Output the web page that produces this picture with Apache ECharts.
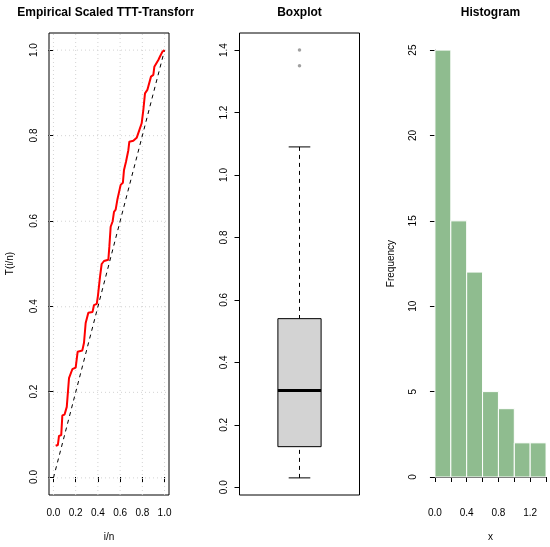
<!DOCTYPE html>
<html>
<head>
<meta charset="utf-8">
<script src="https://cdn.jsdelivr.net/npm/echarts@6/dist/echarts.min.js"></script>
<style>
  html, body { margin: 0; padding: 0; background: #fff; }
  #main { width: 550px; height: 547px; }
</style>
</head>
<body>
<div id="main"></div>
<script>
// TTT-transform curve (i/n, T(i/n))
var tttX = [0.02, 0.04, 0.05, 0.07, 0.08, 0.10, 0.12, 0.13, 0.14, 0.155, 0.17, 0.20, 0.218, 0.26, 0.275, 0.29, 0.314, 0.352, 0.365, 0.39,
            0.40, 0.419, 0.434, 0.455, 0.494, 0.503, 0.515, 0.533, 0.545, 0.56, 0.575, 0.59, 0.605, 0.625, 0.635, 0.653, 0.674, 0.683, 0.719, 0.734,
            0.749, 0.773, 0.794, 0.809, 0.824, 0.845, 0.863, 0.878, 0.899, 0.908, 0.925, 0.944, 0.959, 0.98, 1.0];
var tttY = [0.075, 0.077, 0.098, 0.100, 0.146, 0.148, 0.166, 0.168, 0.233, 0.235, 0.254, 0.258, 0.295, 0.298, 0.316, 0.362, 0.386, 0.388, 0.404, 0.407,
            0.425, 0.470, 0.500, 0.507, 0.510, 0.540, 0.587, 0.600, 0.622, 0.627, 0.650, 0.653, 0.685, 0.690, 0.720, 0.739, 0.766, 0.786, 0.788, 0.790,
            0.795, 0.813, 0.829, 0.860, 0.899, 0.907, 0.911, 0.938, 0.942, 0.961, 0.963, 0.977, 0.985, 0.996, 1.0];
var diagX = [0, 1];
var diagY = [0, 1];
var gridTicks = [0, 0.2, 0.4, 0.6, 0.8, 1.0];

// boxplot: lower whisker, Q1, median, Q3, upper whisker; outliers
var boxStats = [0.03, 0.13, 0.31, 0.54, 1.09];
var outliers = [1.35, 1.40];

// histogram
var breaks = [0, 0.2, 0.4, 0.6, 0.8, 1.0, 1.2, 1.4];
var counts = [25, 15, 12, 5, 4, 2, 2];

var FONT = 'Liberation Sans, Arial, sans-serif';

function zip(a, b){
	var arr = [];
	for(var i=0; i<a.length; i++){
		arr.push([a[i], b[i]]);
	}
	return arr;
}

var histData = [];
for(var i=0; i<counts.length; i++){
	histData.push([breaks[i], breaks[i+1], counts[i]]);
}

var tickLabel = { fontSize: 10, color: '#000', fontFamily: FONT };
var hidden = function(idx, mn, mx){ return { gridIndex: idx, type: 'value', min: mn, max: mx, show: false }; };

var chart = echarts.init(document.getElementById('main'));

var option = {
	animation: false,
	backgroundColor: '#fff',
	title: [
		{ text: 'Empirical Scaled TTT-Transform', left: 109, top: 7, padding: 0, textAlign: 'center',
		  textStyle: { fontSize: 12, fontWeight: 'bold', fontFamily: FONT, color: '#000' } },
		{ text: 'Boxplot', left: 299.5, top: 7, padding: 0, textAlign: 'center',
		  textStyle: { fontSize: 12, fontWeight: 'bold', fontFamily: FONT, color: '#000' } },
		{ text: 'Histogram', left: 490.5, top: 7, padding: 0, textAlign: 'center',
		  textStyle: { fontSize: 12, fontWeight: 'bold', fontFamily: FONT, color: '#000' } }
	],
	// the first title is cut at the edge of its panel
	graphic: [
		{ type: 'rect', shape: { x: 194, y: 0, width: 22, height: 26 }, style: { fill: '#fff' }, z: 100 }
	],
	grid: [
		{ left: 49, top: 33, width: 120, height: 462, show: true, borderColor: '#000', borderWidth: 1, backgroundColor: 'transparent' },
		{ left: 53.44, top: 50.11, width: 111.11, height: 427.78 },
		{ left: 239.5, top: 33, width: 120, height: 462, show: true, borderColor: '#000', borderWidth: 1, backgroundColor: 'transparent' },
		{ left: 239.5, top: 50.11, width: 120, height: 437.15 },
		{ left: 434.94, top: 50.11, width: 111.11, height: 427.78 }
	],
	xAxis: [
		hidden(0, -0.04, 1.04),
		{
			gridIndex: 1, type: 'value', min: 0, max: 1, interval: 0.2, position: 'bottom', offset: 20,
			name: 'i/n', nameLocation: 'middle', nameGap: 35,
			nameTextStyle: { fontSize: 10, color: '#000', fontFamily: FONT },
			axisLine: { show: false },
			axisTick: { show: true, inside: false, length: 5, lineStyle: { color: '#000' } },
			axisLabel: Object.assign({ margin: 11, formatter: function(v){ return v.toFixed(1); } }, tickLabel),
			splitLine: { show: false }
		},
		hidden(2, 0, 1),
		hidden(3, 0, 1),
		{
			gridIndex: 4, type: 'value', min: 0, max: 1.4, interval: 0.2, position: 'bottom', offset: 19.5,
			name: 'x', nameLocation: 'middle', nameGap: 35.5,
			nameTextStyle: { fontSize: 10, color: '#000', fontFamily: FONT },
			axisLine: { show: true, lineStyle: { color: '#000', width: 1 } },
			axisTick: { show: true, inside: false, length: 5, lineStyle: { color: '#000' } },
			axisLabel: Object.assign({ margin: 11.5, showMaxLabel: true, formatter: function(v){
				return Math.round(v*10) % 4 === 0 ? v.toFixed(1) : '';
			} }, tickLabel),
			splitLine: { show: false }
		}
	],
	yAxis: [
		hidden(0, -0.04, 1.04),
		{
			gridIndex: 1, type: 'value', min: 0, max: 1, interval: 0.2, position: 'left', offset: 4.44,
			name: 'T(i/n)', nameLocation: 'middle', nameGap: 34,
			nameTextStyle: { fontSize: 10, color: '#000', fontFamily: FONT },
			axisLine: { show: false },
			axisTick: { show: true, inside: false, length: 5, lineStyle: { color: '#000' } },
			axisLabel: Object.assign({ margin: 10, rotate: 90, formatter: function(v){ return v.toFixed(1); } }, tickLabel),
			splitLine: { show: false }
		},
		hidden(2, -0.0248, 1.4548),
		{
			gridIndex: 3, type: 'value', min: 0, max: 1.4, interval: 0.2, position: 'left', offset: 0,
			axisLine: { show: false },
			axisTick: { show: true, inside: false, length: 5, lineStyle: { color: '#000' } },
			axisLabel: Object.assign({ margin: 10, rotate: 90, formatter: function(v){ return v.toFixed(1); } }, tickLabel),
			splitLine: { show: false }
		},
		{
			gridIndex: 4, type: 'value', min: 0, max: 25, interval: 5, position: 'left', offset: 6.4,
			name: 'Frequency', nameLocation: 'middle', nameGap: 32,
			nameTextStyle: { fontSize: 10, color: '#000', fontFamily: FONT },
			axisLine: { show: true, lineStyle: { color: '#000', width: 1 } },
			axisTick: { show: true, inside: false, length: 5, lineStyle: { color: '#000' } },
			axisLabel: Object.assign({ margin: 10, rotate: 90 }, tickLabel),
			splitLine: { show: false }
		}
	],
	series: [
		{
			// dotted grid() lines across the whole plot region
			type: 'custom', xAxisIndex: 0, yAxisIndex: 0, silent: true, clip: false,
			data: zip(gridTicks, gridTicks),
			renderItem: function(params, api){
				var v = api.value(0);
				var a = api.coord([v, -0.04]), b = api.coord([v, 1.04]);
				var c = api.coord([-0.04, v]), d = api.coord([1.04, v]);
				var st = { stroke: '#D3D3D3', lineWidth: 1, lineDash: [1, 3] };
				return { type: 'group', children: [
					{ type: 'line', shape: { x1: a[0], y1: a[1], x2: b[0], y2: b[1] }, style: st },
					{ type: 'line', shape: { x1: c[0], y1: c[1], x2: d[0], y2: d[1] }, style: st }
				] };
			}
		},
		{
			type: 'line', xAxisIndex: 0, yAxisIndex: 0, data: zip(diagX, diagY),
			showSymbol: false, symbol: 'none',
			lineStyle: { color: '#000', width: 1, type: [4, 4] }
		},
		{
			type: 'line', xAxisIndex: 0, yAxisIndex: 0, data: zip(tttX, tttY),
			showSymbol: false, symbol: 'none',
			lineStyle: { color: '#FF0000', width: 2 }
		},
		{
			type: 'custom', xAxisIndex: 2, yAxisIndex: 2, silent: true,
			data: [[0.5].concat(boxStats)],
			encode: { x: 0, y: [1, 2, 3, 4, 5] },
			renderItem: function(params, api){
				var cx = api.value(0);
				var lo = api.coord([cx, api.value(1)]), q1 = api.coord([cx, api.value(2)]);
				var md = api.coord([cx, api.value(3)]), q3 = api.coord([cx, api.value(4)]);
				var hi = api.coord([cx, api.value(5)]);
				var bl = api.coord([cx - 0.18, 0])[0], br = api.coord([cx + 0.18, 0])[0];
				var cl = api.coord([cx - 0.09, 0])[0], cr = api.coord([cx + 0.09, 0])[0];
				var dash = { stroke: '#000', lineWidth: 1, lineDash: [4, 4] };
				var solid = { stroke: '#000', lineWidth: 1 };
				return { type: 'group', children: [
					{ type: 'line', shape: { x1: hi[0], y1: hi[1], x2: q3[0], y2: q3[1] }, style: dash },
					{ type: 'line', shape: { x1: lo[0], y1: lo[1], x2: q1[0], y2: q1[1] }, style: dash },
					{ type: 'line', shape: { x1: cl, y1: hi[1], x2: cr, y2: hi[1] }, style: solid },
					{ type: 'line', shape: { x1: cl, y1: lo[1], x2: cr, y2: lo[1] }, style: solid },
					{ type: 'rect', shape: { x: bl, y: q3[1], width: br - bl, height: q1[1] - q3[1] },
					  style: { fill: '#D3D3D3', stroke: '#000', lineWidth: 1 } },
					{ type: 'line', shape: { x1: bl, y1: md[1], x2: br, y2: md[1] }, style: { stroke: '#000', lineWidth: 3 } }
				] };
			}
		},
		{
			type: 'scatter', xAxisIndex: 2, yAxisIndex: 2,
			data: outliers.map(function(v){ return [0.5, v]; }),
			symbol: 'circle', symbolSize: 3.5,
			itemStyle: { color: '#888' }
		},
		{
			type: 'custom', xAxisIndex: 4, yAxisIndex: 4, silent: true,
			data: histData,
			encode: { x: [0, 1], y: 2 },
			renderItem: function(params, api){
				var p0 = api.coord([api.value(0), api.value(2)]);
				var p1 = api.coord([api.value(1), 0]);
				return { type: 'rect', shape: { x: p0[0], y: p0[1], width: p1[0] - p0[0], height: p1[1] - p0[1] },
					style: { fill: '#8FBC8F', stroke: '#fff', lineWidth: 1 } };
			}
		}
	]
};

chart.setOption(option);
</script>
</body>
</html>
